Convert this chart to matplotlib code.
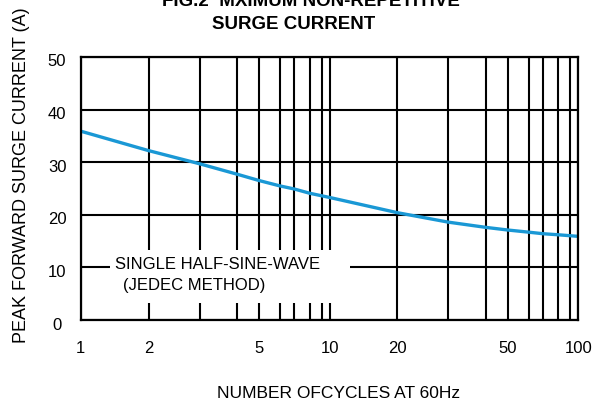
import numpy as np
import matplotlib
matplotlib.use("Agg")
import matplotlib.pyplot as plt
from matplotlib.patches import Rectangle
from matplotlib.transforms import ScaledTranslation

# ---- data ----
cycles = [1, 2, 3, 4, 5, 6, 7, 8, 10, 20, 30, 40, 50, 60, 70, 80, 100]
current = [35.9, 32.2, 29.7, 27.7, 26.5, 25.5, 24.9, 24.1, 23.3, 20.4,
           18.6, 17.6, 17.1, 16.7, 16.4, 16.2, 15.9]

x_grid = [1, 2, 3, 4, 5, 6, 7, 8, 9, 10, 20, 30, 40, 50, 60, 70, 80, 90, 100]
x_labels = ["1", "2", "5", "10", "20", "50", "100"]
y_ticks = [0, 10, 20, 30, 40, 50]
y_labels = ["0", "10", "20", "30", "40", "50"]

title1 = "FIG.2  MXIMUM NON-REPETITIVE"
title2 = "SURGE CURRENT"
xlabel = "NUMBER OFCYCLES AT 60Hz"
ylabel = "PEAK FORWARD SURGE CURRENT (A)"
note1 = "SINGLE HALF-SINE-WAVE"
note2 = "(JEDEC METHOD)"

# ---- the chart's hand-drawn log grid: position of 1..10 within a decade ----
_dec_vals = np.array([1, 2, 3, 4, 5, 6, 7, 8, 9, 10], dtype=float)
_dec_pos = np.array([0, 0.273, 0.478, 0.63, 0.718, 0.80, 0.859, 0.92, 0.968, 1.0])


def fwd(x):
    x = np.asarray(x, dtype=float)
    with np.errstate(divide="ignore", invalid="ignore"):
        lg = np.log10(np.clip(x, 1e-12, None))
    d = np.floor(lg)
    v = 10 ** (lg - d)
    return d + np.interp(v, _dec_vals, _dec_pos)


def inv(p):
    p = np.asarray(p, dtype=float)
    d = np.floor(p)
    f = p - d
    return 10 ** d * np.interp(f, _dec_pos, _dec_vals)


plt.rcParams["font.family"] = ["Liberation Sans", "DejaVu Sans"]

fig = plt.figure(figsize=(6.12, 4.01), dpi=100)
ax = fig.add_axes([80.7 / 612, 81 / 401, 497.6 / 612, 263 / 401])

ax.set_xscale("function", functions=(fwd, inv))
ax.set_xlim(1, 100)
ax.set_ylim(0, 50)

ax.plot(cycles, current, color="#1a98d5", lw=2.4, zorder=3, solid_capstyle="butt")

ax.set_xticks(x_grid)
ax.set_xticklabels([str(v) if str(v) in x_labels else "" for v in x_grid])
ax.set_yticks(y_ticks)
ax.set_yticklabels(y_labels)
ax.minorticks_off()
ax.set_axisbelow(True)
ax.grid(True, color="black", lw=1.5)

ax.tick_params(axis="both", length=0, labelsize=12, colors="black")
ax.tick_params(axis="x", pad=24)
ax.tick_params(axis="y", pad=17)
for lab in ax.get_xticklabels():
    lab.set_verticalalignment("baseline")
for lab in ax.get_yticklabels():
    lab.set_horizontalalignment("center")
    lab.set_verticalalignment("baseline")
    lab.set_transform(lab.get_transform() + ScaledTranslation(0, -0.095, fig.dpi_scale_trans))

for s in ax.spines.values():
    s.set_linewidth(1.6)
    s.set_color("black")
    s.set_zorder(4)

# white panel behind the note (interrupts the grid)
ax.add_patch(Rectangle((0.059, 0.065), 0.482, 0.201, transform=ax.transAxes,
                       facecolor="white", edgecolor="none", zorder=1))
ax.text(0.0689, 0.1928, note1, transform=ax.transAxes, fontsize=12,
        ha="left", va="baseline", zorder=2)
ax.text(0.0856, 0.114, note2, transform=ax.transAxes, fontsize=12,
        ha="left", va="baseline", zorder=2)

ax.set_xlabel(xlabel, fontsize=12.5)
ax.xaxis.label.set_verticalalignment("baseline")
ax.xaxis.set_label_coords(0.5177, -0.2977)
ax.set_ylabel(ylabel, fontsize=13)
ax.yaxis.label.set_verticalalignment("center")
ax.yaxis.set_label_coords((22 - 80.7) / 497.6, (320 - 175) / 263)

fig.text(310.5 / 612, 1 - 6 / 401, title1, fontsize=13.5, fontweight="bold",
         ha="center", va="baseline")
fig.text(293.8 / 612, 1 - 29.3 / 401, title2, fontsize=13.5, fontweight="bold",
         ha="center", va="baseline")

fig.savefig("out.png", dpi=100)
